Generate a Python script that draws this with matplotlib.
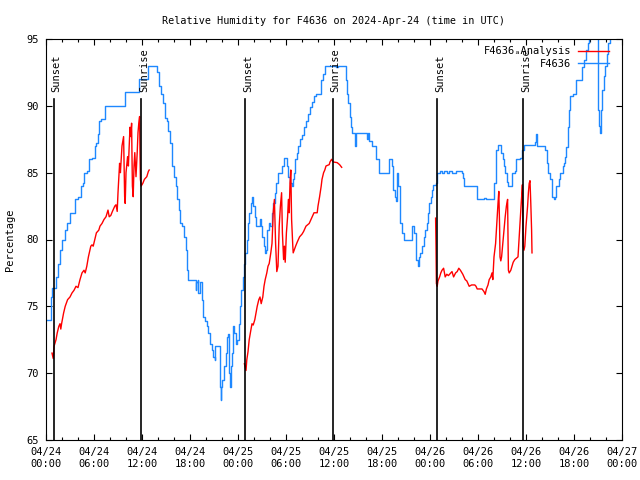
import numpy as np
import matplotlib
matplotlib.use("Agg")
from matplotlib import pyplot as plt
from matplotlib.lines import Line2D

# hours since 2024-04-24 00:00 UTC
obs_hours = [0.1, 0.6, 0.8, 1.1, 1.25, 1.5, 1.75, 2.0, 2.33, 2.6, 2.9, 3.0, 3.5, 3.67, 4.0, 4.33, 4.6, 4.75,
             5.17, 5.4, 5.8, 6.1, 6.25, 6.5, 6.67, 6.9, 7.33, 9.83, 11.5, 11.6, 12.75, 13.75, 13.9, 14.1, 14.4,
             14.6, 14.9, 15.1, 15.3, 15.5, 15.75, 15.8, 16.0, 16.25, 16.4, 16.67, 16.8, 17.0, 17.25, 17.5, 17.67,
             17.8, 18.6, 18.7, 18.8, 18.95, 19.05, 19.2, 19.5, 19.67, 19.9, 20.1, 20.3, 20.5, 20.75, 20.9, 21.1,
             21.17, 21.6, 21.75, 21.83, 21.9, 22.0, 22.3, 22.5, 22.67, 22.8, 22.9, 23.0, 23.1, 23.3, 23.4, 23.55,
             23.75, 23.9, 24.1, 24.25, 24.4, 24.6, 24.75, 24.9, 25.1, 25.25, 25.4, 25.6, 25.75, 25.9, 26.1, 26.25,
             26.6, 26.7, 26.85, 27.0, 27.2, 27.4, 27.55, 27.67, 27.85, 28.05, 28.25, 28.4, 28.6, 28.8, 29.0, 29.5,
             29.7, 30.0, 30.1, 30.25, 30.5, 30.75, 30.85, 31.0, 31.1, 31.4, 31.5, 31.8, 32.0, 32.3, 32.5, 32.8,
             33.0, 33.3, 33.5, 33.7, 34.2, 34.4, 34.6, 34.9, 36.0, 36.2, 36.5, 37.3, 37.5, 37.6, 37.8, 37.96,
             38.1, 38.3, 38.6, 38.7, 39.9, 40.1, 40.2, 40.4, 40.7, 41.2, 41.3, 41.6, 42.7, 42.9, 43.1, 43.25,
             43.4, 43.6, 43.75, 43.9, 44.0, 44.2, 44.3, 44.5, 44.7, 45.7, 45.8, 46.0, 46.2, 46.3, 46.5, 46.6,
             46.8, 47.0, 47.2, 47.4, 47.6, 47.75, 47.9, 48.1, 48.25, 48.4, 48.75, 48.9, 49.3, 49.5, 49.8, 50.1,
             50.4, 50.7, 51.2, 51.6, 52.0, 52.1, 52.3, 53.75, 53.9, 54.8, 55.0, 55.8, 56.0, 56.2, 56.3, 56.5,
             56.8, 56.9, 57.1, 57.25, 57.4, 57.6, 57.8, 58.1, 58.2, 58.6, 58.8, 59.25, 59.5, 59.7, 60.9, 61.1,
             61.25, 61.4, 62.25, 62.4, 62.6, 62.8, 63.0, 63.2, 63.3, 63.5, 63.65, 63.8, 64.1, 64.3, 64.6, 64.75,
             64.9, 65.0, 65.2, 65.4, 65.5, 65.9, 66.2, 66.3, 66.9, 67.0, 67.3, 67.5, 67.7, 67.85, 68.0, 68.9,
             68.95, 69.1, 69.25, 69.35, 69.5, 69.7, 69.9, 70.1, 70.3, 70.5]
obs_rh = [74.0, 75.7, 76.4, 76.4, 77.2, 78.2, 79.2, 80.0, 80.7, 81.2, 81.2, 82.0, 82.0, 83.0, 83.2, 84.0, 84.2, 85.0,
          85.1, 86.0, 86.1, 87.0, 87.2, 87.9, 88.9, 89.0, 90.0, 91.0, 91.0, 92.0, 93.0, 93.0, 92.5, 91.5, 90.9,
          90.2, 89.1, 88.9, 88.1, 87.2, 86.5, 85.5, 84.7, 84.0, 83.0, 82.2, 81.2, 81.0, 80.2, 79.2, 77.7,
          77.0, 77.0, 76.2, 76.8, 77.0, 76.0, 76.8, 75.5, 74.2, 73.9, 73.5, 73.0, 72.2, 71.7, 71.2, 71.0,
          72.0, 72.0, 69.0, 68.0, 69.0, 69.5, 70.5, 71.5, 72.7, 72.9, 70.0, 69.0, 70.5, 71.5, 73.5, 73.0,
          72.2, 72.5, 73.7, 75.0, 76.2, 77.2, 78.2, 79.0, 80.0, 81.2, 82.0, 82.7, 83.2, 82.5, 81.7, 81.0,
          81.0, 81.5, 81.0, 80.2, 79.5, 79.0, 79.2, 80.7, 81.2, 81.0, 82.0, 82.7, 83.5, 84.2, 85.0, 85.5,
          86.1, 86.1, 85.5, 84.7, 84.2, 84.0, 84.5, 85.0, 86.0, 86.5, 87.0, 87.5, 87.8, 88.4, 88.9, 89.4,
          89.9, 90.3, 90.7, 90.9, 90.9, 91.9, 92.4, 93.0, 93.0, 92.9, 93.0, 93.0, 91.9, 90.9, 90.2, 89.2,
          88.4, 88.0, 87.0, 88.0, 88.0, 87.5, 88.0, 87.4, 87.0, 87.0, 86.0, 85.0, 85.0, 86.0, 86.0, 85.5,
          83.7, 83.2, 82.9, 85.0, 84.0, 81.7, 81.2, 80.5, 80.0, 80.0, 81.0, 80.5, 79.5, 78.5, 78.0, 78.7,
          79.0, 79.5, 80.2, 80.7, 81.2, 82.0, 82.7, 83.2, 83.7, 84.1, 84.2, 85.0, 85.1, 85.0, 85.1, 85.0,
          85.1, 85.0, 85.1, 85.1, 85.0, 84.6, 84.0, 84.0, 83.0, 83.1, 83.0, 83.0, 84.2, 85.7, 86.7, 87.1,
          87.1, 86.5, 86.0, 85.5, 85.0, 84.3, 84.0, 84.0, 85.0, 85.1, 86.0, 86.1, 86.7, 87.1, 87.1, 87.3,
          87.9, 87.0, 87.0, 86.7, 85.7, 85.0, 84.5, 83.7, 83.2, 83.0, 83.2, 84.0, 84.5, 85.0, 85.5, 85.7,
          86.2, 86.9, 88.4, 89.7, 90.7, 90.9, 90.9, 91.9, 91.9, 92.9, 93.4, 94.2, 94.7, 95.5, 96.5, 96.5,
          89.7, 88.5, 88.0, 89.7, 91.2, 92.2, 93.0, 93.9, 94.7, 95.6]

ana1_hours = [0.75, 0.9, 1.0, 1.25, 1.4, 1.6, 1.75, 1.85, 1.95, 2.2, 2.4, 2.7, 2.85, 3.0, 3.25, 3.5, 3.75, 4.0,
              4.25, 4.5, 4.75, 4.9, 5.1, 5.3, 5.6, 5.75, 5.9, 6.1, 6.3, 6.6, 6.75, 7.0, 7.25, 7.5, 7.75, 7.9,
              8.1, 8.3, 8.6, 8.75, 8.9, 9.0, 9.2, 9.3, 9.5, 9.7, 9.83, 9.9, 10.0, 10.2, 10.3, 10.4, 10.5, 10.6,
              10.7, 10.75, 10.8, 10.9, 11.0, 11.1, 11.25, 11.4, 11.5, 11.6, 11.7, 11.75, 11.8, 11.9, 12.1, 12.3,
              12.6, 12.8, 12.9]
ana1_rh = [71.5, 71.1, 72.0, 72.5, 73.0, 73.5, 73.7, 73.3, 73.7, 74.5, 75.0, 75.5, 75.6, 75.7, 76.0, 76.2, 76.5, 76.4,
           77.0, 77.5, 77.7, 77.5, 78.0, 78.7, 79.5, 79.6, 79.5, 80.0, 80.5, 80.7, 81.0, 81.2, 81.5, 81.7, 82.2, 81.7,
           81.8, 82.1, 82.5, 82.6, 82.1, 83.5, 85.7, 85.0, 87.0, 87.7, 83.2, 82.7, 85.0, 86.2, 85.5, 87.0, 88.4, 87.7,
           88.7, 86.2, 84.0, 83.2, 85.5, 86.5, 84.7, 86.5, 88.0, 88.7, 89.2, 86.5, 84.5, 84.0, 84.2, 84.5,
           84.7, 85.1, 85.2]

ana2_hours = [24.8, 25.0, 25.1, 25.25, 25.4, 25.6, 25.75, 25.9, 26.1, 26.25, 26.4, 26.6, 26.75, 26.9, 27.1, 27.25,
              27.4, 27.6, 27.75, 27.9, 28.1, 28.25, 28.4, 28.55, 28.7, 28.85, 29.0, 29.15, 29.3, 29.45, 29.55,
              29.7, 29.8, 29.9, 30.05, 30.2, 30.3, 30.4, 30.5, 30.6, 30.7, 30.85, 30.9, 31.2, 31.4, 31.7, 32.0,
              32.2, 32.5, 32.9, 33.2, 33.5, 33.9, 34.0, 34.2, 34.4, 34.5, 34.7, 34.85, 35.0, 35.4, 35.5, 35.7,
              35.9, 36.4, 36.7, 36.96]
ana2_rh = [70.7, 70.2, 71.0, 71.6, 72.5, 73.2, 73.7, 73.6, 74.0, 74.5, 75.0, 75.5, 75.7, 75.2, 75.7, 76.5,
           77.0, 77.5, 78.0, 78.2, 79.0, 79.7, 82.0, 83.0, 79.7, 77.6, 78.0, 81.0, 82.5, 83.5, 80.5,
           78.5, 79.5, 78.3, 80.5, 81.7, 83.0, 82.0, 84.2, 85.2, 81.5, 79.5, 79.0, 79.5, 79.8, 80.2, 80.4,
           80.6, 81.0, 81.2, 81.6, 82.0, 82.0, 82.5, 83.2, 84.0, 84.5, 85.0, 85.2, 85.5, 85.6, 85.8, 86.0,
           85.8, 85.75, 85.6, 85.4]

ana3_hours = [48.7, 48.75, 48.8, 48.9, 49.0, 49.2, 49.35, 49.5, 49.7, 49.9, 50.1, 50.3, 50.6, 50.75, 50.95, 51.2,
              51.4, 51.6, 51.8, 52.0, 52.1, 52.25, 52.4, 52.6, 52.75, 52.9, 53.2, 53.6, 53.75, 53.9, 54.5, 54.75,
              54.9, 55.05, 55.25, 55.4, 55.6, 55.75, 55.85, 56.0, 56.2, 56.3, 56.5, 56.6, 56.7, 56.75, 56.85,
              56.95, 57.1, 57.25, 57.4, 57.55, 57.7, 57.75, 57.8, 57.9, 58.1, 58.25, 58.4, 58.6, 58.8, 59.0,
              59.1, 59.25, 59.4, 59.5, 59.55, 59.65, 59.75, 59.85, 60.0, 60.2, 60.3, 60.4, 60.5, 60.6, 60.7, 60.75]
ana3_rh = [81.6, 79.5, 76.7, 76.5, 76.9, 77.2, 77.5, 77.7, 77.85, 77.2, 77.4, 77.3, 77.5, 77.6, 77.2, 77.5,
           77.6, 77.85, 77.7, 77.5, 77.4, 77.2, 77.0, 76.9, 76.7, 76.5, 76.6, 76.6, 76.5, 76.3, 76.3, 76.1,
           75.9, 76.3, 76.6, 77.0, 77.2, 77.5, 77.0, 78.7, 79.7, 80.7, 82.7, 83.6, 81.0, 78.7, 78.4,
           78.7, 79.7, 80.7, 81.7, 82.5, 83.0, 80.2, 77.7, 77.5, 77.7, 78.0, 78.3, 78.5, 78.6, 78.7,
           79.7, 81.2, 82.7, 83.6, 84.1, 79.5, 79.2, 79.5, 81.0, 82.5, 83.5, 84.2, 84.4, 82.7, 80.7, 79.0]

sun_hours = [1.0, 11.92, 24.92, 35.83, 48.92, 59.67]
sun_labels = ['Sunset', 'Sunrise', 'Sunset', 'Sunrise', 'Sunset', 'Sunrise']

tick_hours = [0, 6, 12, 18, 24, 30, 36, 42, 48, 54, 60, 66, 72]
tick_labels = ['04/24\n00:00', '04/24\n06:00', '04/24\n12:00', '04/24\n18:00',
               '04/25\n00:00', '04/25\n06:00', '04/25\n12:00', '04/25\n18:00',
               '04/26\n00:00', '04/26\n06:00', '04/26\n12:00', '04/26\n18:00', '04/27\n00:00']

plt.rcParams['font.family'] = ['DejaVu Sans Mono', 'DejaVu Sans']
plt.rcParams['font.size'] = 7

blue = '#1e88ff'
red = '#ff0000'

fig = plt.figure(figsize=(6.4, 4.8), dpi=100)
ax = fig.add_axes([46 / 640, 1 - 440 / 480, 576 / 640, 401 / 480])

ax.plot(obs_hours, obs_rh, color=blue, lw=1.0, drawstyle='steps-post')
for h, v in [(ana1_hours, ana1_rh), (ana2_hours, ana2_rh), (ana3_hours, ana3_rh)]:
    ax.plot(h, v, color=red, lw=1.0)

top = 90.5
for h, lab in zip(sun_hours, sun_labels):
    ax.plot([h, h], [65, top], color='black', lw=1.2)
    ax.text(h + 0.3, 91.0, lab, rotation=90, ha='center', va='bottom', fontsize=7.5)

ax.set_xlim(0, 72)
ax.set_ylim(65, 95)
ax.set_xticks(tick_hours)
ax.set_xticklabels(tick_labels, fontsize=7.5)
ax.set_xticks(np.arange(0, 73, 2), minor=True)
ax.set_yticks([65, 70, 75, 80, 85, 90, 95])
ax.tick_params(which='both', direction='in', top=True, right=True, pad=5)
ax.tick_params(axis='y', labelsize=7.5)
ax.tick_params(which='major', length=4.5, width=0.8)
ax.tick_params(which='minor', length=2.5, width=0.8)
for s in ax.spines.values():
    s.set_linewidth(0.8)

ax.set_ylabel('Percentage', labelpad=8, fontsize=7.5)
ax.set_title('Relative Humidity for F4636 on 2024-Apr-24 (time in UTC)', pad=11, fontsize=7.3)

handles = [Line2D([], [], color=red, lw=1.0), Line2D([], [], color=blue, lw=1.0)]
ax.legend(handles, ['F4636ₐAnalysis', 'F4636'], loc='upper right', frameon=False,
          markerfirst=False, handlelength=3.0, handletextpad=0.6, labelspacing=0.25,
          bbox_to_anchor=(0.99, 1.0), borderaxespad=0.3, fontsize=7.5)

fig.savefig('out.png', dpi=100)
